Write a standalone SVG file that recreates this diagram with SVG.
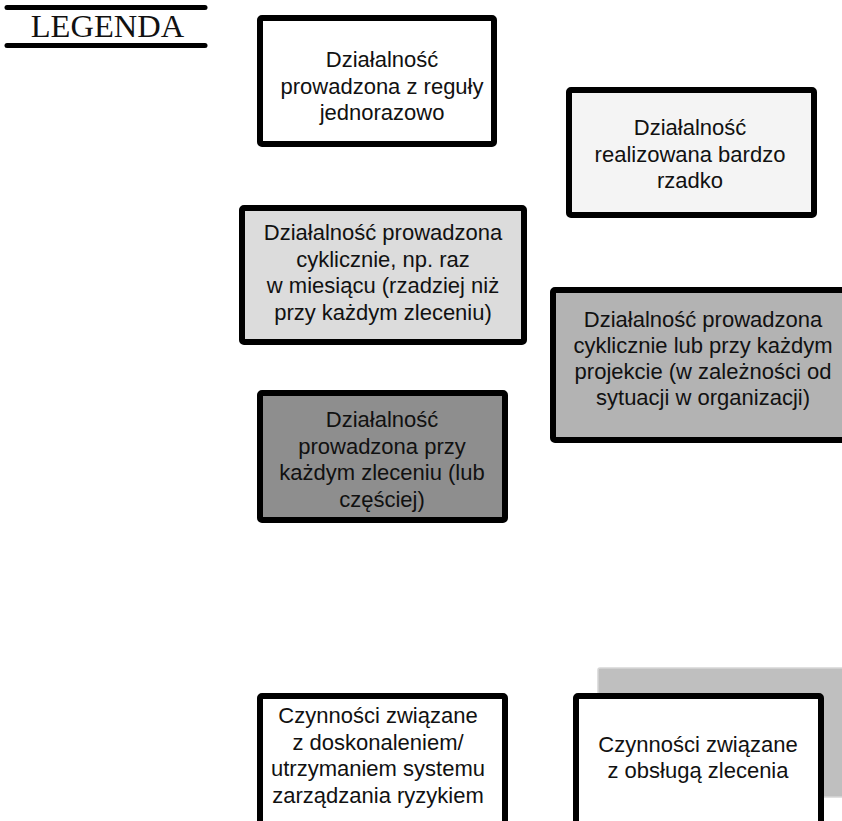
<svg xmlns="http://www.w3.org/2000/svg" width="842" height="821" viewBox="0 0 842 821">
  <style>
    .box { stroke: #000; stroke-width: 6; stroke-linejoin: round; }
    .lbl { font-family: "Liberation Sans", Arial, sans-serif; font-size: 22px; fill: #111; text-anchor: middle; }
    .rule { stroke: #000; stroke-width: 5; stroke-linecap: round; }
  </style>
  <rect width="842" height="821" fill="#fff"/>

  <g id="legend-title">
    <line class="rule" x1="7" y1="7.5" x2="205" y2="7.5"/>
    <line class="rule" x1="7" y1="45.5" x2="205" y2="45.5"/>
    <text x="107.5" y="37" font-family="'Liberation Serif', 'Times New Roman', serif" font-size="32.5" text-anchor="middle" fill="#111">LEGENDA</text>
  </g>

  <g id="once">
    <rect class="box" x="260" y="18" width="234" height="126" rx="2" fill="#ffffff"/>
    <text class="lbl" x="382" y="67">Działalność</text>
    <text class="lbl" x="382" y="93.5">prowadzona z reguły</text>
    <text class="lbl" x="382" y="120">jednorazowo</text>
  </g>

  <g id="rarely">
    <rect class="box" x="569" y="90" width="245" height="125" rx="2" fill="#f4f4f4"/>
    <text class="lbl" x="690" y="135">Działalność</text>
    <text class="lbl" x="690" y="161.5">realizowana bardzo</text>
    <text class="lbl" x="690" y="188">rzadko</text>
  </g>

  <g id="monthly">
    <rect class="box" x="242" y="208" width="282" height="134" rx="2" fill="#dcdcdc"/>
    <text class="lbl" x="383" y="240">Działalność prowadzona</text>
    <text class="lbl" x="383" y="266.5">cyklicznie, np. raz</text>
    <text class="lbl" x="383" y="293">w miesiącu (rzadziej niż</text>
    <text class="lbl" x="383" y="319.5">przy każdym zleceniu)</text>
  </g>

  <g id="cyclic-or-project">
    <rect class="box" x="553" y="290" width="306" height="150" rx="2" fill="#b3b3b3"/>
    <text class="lbl" x="703" y="327">Działalność prowadzona</text>
    <text class="lbl" x="703" y="353">cyklicznie lub przy każdym</text>
    <text class="lbl" x="703" y="379">projekcie (w zależności od</text>
    <text class="lbl" x="703" y="405">sytuacji w organizacji)</text>
  </g>

  <g id="every-order">
    <rect class="box" x="260" y="393" width="245" height="127" rx="2" fill="#8e8e8e"/>
    <text class="lbl" x="382" y="427">Działalność</text>
    <text class="lbl" x="382" y="453.5">prowadzona przy</text>
    <text class="lbl" x="382" y="480">każdym zleceniu (lub</text>
    <text class="lbl" x="382" y="506.5">częściej)</text>
  </g>

  <g id="risk-system">
    <rect class="box" x="260" y="696" width="245" height="150" rx="2" fill="#ffffff"/>
    <text class="lbl" x="378" y="723">Czynności związane</text>
    <text class="lbl" x="378" y="749.5">z doskonaleniem/</text>
    <text class="lbl" x="378" y="776">utrzymaniem systemu</text>
    <text class="lbl" x="378" y="802.5">zarządzania ryzykiem</text>
  </g>

  <g id="order-handling">
    <rect x="598" y="668" width="270" height="129" rx="2" fill="#bfbfbf" stroke="#d6d6d6" stroke-width="1.5"/>
    <rect class="box" x="576" y="696" width="245" height="150" rx="2" fill="#ffffff"/>
    <text class="lbl" x="698" y="752">Czynności związane</text>
    <text class="lbl" x="698" y="778">z obsługą zlecenia</text>
  </g>

  <g id="connectors"></g>
</svg>
